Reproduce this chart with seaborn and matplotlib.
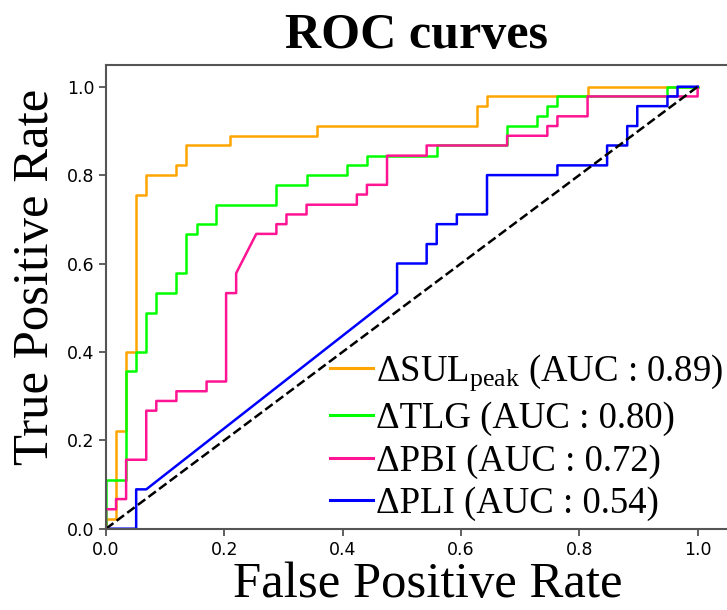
import matplotlib
matplotlib.use("Agg")
import matplotlib.pyplot as plt
import seaborn as sns
import pandas as pd

# ---- data ----
sul_fpr = [0, 0, 0.017, 0.017, 0.034, 0.034, 0.051, 0.051, 0.068, 0.068, 0.119, 0.119,
           0.136, 0.136, 0.210, 0.210, 0.356, 0.356, 0.627, 0.627, 0.644, 0.644, 0.814, 0.814, 1.0]
sul_tpr = [0, 0.022, 0.022, 0.222, 0.222, 0.400, 0.400, 0.756, 0.756, 0.800, 0.800, 0.822,
           0.822, 0.867, 0.867, 0.889, 0.889, 0.911, 0.911, 0.956, 0.956, 0.978, 0.978, 1.0, 1.0]

tlg_fpr = [0, 0, 0.034, 0.034, 0.051, 0.051, 0.068, 0.068, 0.085, 0.085, 0.119, 0.119,
           0.136, 0.136, 0.153, 0.153, 0.186, 0.186, 0.287, 0.287, 0.339, 0.339, 0.407, 0.407,
           0.441, 0.441, 0.559, 0.559, 0.678, 0.678, 0.729, 0.729, 0.746, 0.746, 0.763, 0.763,
           0.949, 0.949, 1.0]
tlg_tpr = [0, 0.111, 0.111, 0.356, 0.356, 0.400, 0.400, 0.489, 0.489, 0.533, 0.533, 0.578,
           0.578, 0.667, 0.667, 0.689, 0.689, 0.733, 0.733, 0.778, 0.778, 0.800, 0.800, 0.822,
           0.822, 0.844, 0.844, 0.867, 0.867, 0.911, 0.911, 0.933, 0.933, 0.956, 0.956, 0.978,
           0.978, 1.0, 1.0]

pbi_fpr = [0, 0, 0.017, 0.017, 0.034, 0.034, 0.068, 0.068, 0.085, 0.085, 0.119, 0.119,
           0.170, 0.170, 0.203, 0.203, 0.220, 0.220, 0.254, 0.288, 0.288, 0.305, 0.305, 0.339,
           0.339, 0.424, 0.424, 0.441, 0.441, 0.475, 0.475, 0.542, 0.542, 0.678, 0.678, 0.746,
           0.746, 0.763, 0.763, 0.814, 0.814, 1.0, 1.0]
pbi_tpr = [0, 0.044, 0.044, 0.067, 0.067, 0.156, 0.156, 0.267, 0.267, 0.289, 0.289, 0.311,
           0.311, 0.333, 0.333, 0.533, 0.533, 0.578, 0.667, 0.667, 0.689, 0.689, 0.711, 0.711,
           0.733, 0.733, 0.756, 0.756, 0.778, 0.778, 0.844, 0.844, 0.867, 0.867, 0.889, 0.889,
           0.911, 0.911, 0.933, 0.933, 0.978, 0.978, 1.0]

pli_fpr = [0, 0.051, 0.051, 0.068, 0.492, 0.492, 0.542, 0.542, 0.559, 0.559, 0.593, 0.593,
           0.644, 0.644, 0.763, 0.763, 0.847, 0.847, 0.881, 0.881, 0.898, 0.898, 0.949, 0.949,
           0.966, 0.966, 1.0]
pli_tpr = [0, 0, 0.089, 0.089, 0.533, 0.600, 0.600, 0.644, 0.644, 0.689, 0.689, 0.711,
           0.711, 0.800, 0.800, 0.822, 0.822, 0.867, 0.867, 0.911, 0.911, 0.956, 0.956, 0.978,
           0.978, 1.0, 1.0]

model_names = ["SUL", "TLG", "PBI", "PLI"]
auc_values = [0.89, 0.80, 0.72, 0.54]
legend_labels = ["ΔSUL$_{\\mathrm{peak}}$ (AUC : 0.89)", "ΔTLG (AUC : 0.80)",
                 "ΔPBI (AUC : 0.72)", "ΔPLI (AUC : 0.54)"]
colors = ["#FFA500", "#00FF00", "#FF1493", "#0000FF"]
tick_vals = [0.0, 0.2, 0.4, 0.6, 0.8, 1.0]

# ---- long table ----
frames = []
for name, fx, fy in zip(model_names, [sul_fpr, tlg_fpr, pbi_fpr, pli_fpr],
                        [sul_tpr, tlg_tpr, pbi_tpr, pli_tpr]):
    frames.append(pd.DataFrame({"model": name, "fpr": fx, "tpr": fy,
                                "order": range(len(fx))}))
df = pd.concat(frames, ignore_index=True)

plt.rcParams["font.family"] = ["DejaVu Sans"]
plt.rcParams["mathtext.fontset"] = "custom"
plt.rcParams["mathtext.rm"] = "Liberation Serif"
plt.rcParams["mathtext.it"] = "Liberation Serif:italic"
plt.rcParams["mathtext.bf"] = "Liberation Serif:bold"

fig = plt.figure(figsize=(7.27, 6.10), dpi=100)
ax = fig.add_axes([106 / 727, (610 - 528.7) / 610, (727.2 - 106) / 727, (528.7 - 64.6) / 610])

sns.lineplot(data=df, x="fpr", y="tpr", hue="model", hue_order=model_names,
             palette=dict(zip(model_names, colors)), sort=False, estimator=None,
             linewidth=1.8, ax=ax)
sns.lineplot(x=[0, 1], y=[0, 1], color="black", linestyle="--", linewidth=1.8, ax=ax)

ax.set_xlim(0, 1.05)
ax.set_ylim(0, 1.05)
ax.set_xticks(tick_vals)
ax.set_yticks(tick_vals)
ax.set_xticklabels([f"{t:.1f}" for t in tick_vals])
ax.set_yticklabels([f"{t:.1f}" for t in tick_vals])
ax.tick_params(labelsize=12.5, length=5, width=1.2, color="#444444")
for s in ["left", "bottom", "top"]:
    ax.spines[s].set_color("#555555")
    ax.spines[s].set_linewidth(1.5)
ax.spines["right"].set_visible(False)

ax.set_xlabel("False Positive Rate", family="Liberation Serif", fontsize=36.5)
ax.set_ylabel("True Positive Rate", family="Liberation Serif", fontsize=36.5)
ax.xaxis.set_label_coords(0.518, -0.071, transform=ax.transAxes)
ax.xaxis.label.set_va("top")
ax.yaxis.set_label_coords(-0.076, 0.542, transform=ax.transAxes)
ax.set_title("ROC curves", family="Liberation Serif", fontweight="bold", fontsize=36, pad=12)

handles, _ = ax.get_legend_handles_labels()
handles = handles[:4]
leg = ax.legend(handles, legend_labels, loc="lower right", bbox_to_anchor=(1.024, -0.024),
                frameon=False, prop={"family": "Liberation Serif", "size": 26.5},
                handlelength=1.15, handletextpad=0.1, labelspacing=0.22, borderaxespad=0.1)
for h in leg.get_lines():
    h.set_linewidth(2.2)

fig.savefig("out.png", dpi=100)
